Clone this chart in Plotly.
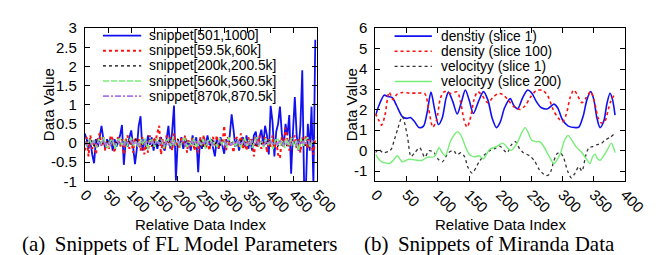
import plotly.graph_objects as go

# ---------------- Panel (a): snippets of FL model parameters ----------------
fl_index_a = list(range(0, 500, 4))      # relative data index for the two main snippets
fl_index_b = list(range(0, 500, 5))      # relative data index for the three small snippets

snippet_501_1000 = [
    0.25, 0.10, -0.15, 0.05, -0.30, -0.53, 0.10, -0.10, 0.15, 0.45,
    0.10, -0.15, 0.10, -0.05, 0.15, -0.20, 0.10, -0.10, 0.05, 0.20,
    0.47, -0.57, 0.05, -0.10, 0.15, 0.33, -0.10, -0.55, -0.15, 0.45,
    0.70, -0.20, 0.10, -0.15, 0.20, -0.05, 0.15, -0.20, 0.10, -0.15,
    0.05, 0.15, -0.10, -0.20, 0.10, 0.45, -0.15, 0.30, 0.98, -0.98,
    0.05, -0.10, 0.15, -0.15, 0.10, -0.10, 0.05, -0.20, 0.20, -0.05,
    0.15, -0.76, 0.10, -0.15, 0.15, -0.10, 0.20, -0.05, 0.10, -0.10,
    -0.35, 0.10, -0.15, 0.15, -0.10, -0.28, 0.10, -0.05, 0.20, 0.75,
    0.35, -0.10, 0.10, -0.20, 0.05, 0.15, -0.10, 0.20, -0.15, 0.10,
    -0.20, 0.20, 0.30, -0.10, 0.15, 0.35, -0.05, 0.45, 0.20, -0.30,
    0.97, 0.55, -0.35, 0.30, 0.50, 0.95, 0.25, -0.10, 0.50, 0.20,
    0.73, -0.80, 0.30, 1.20, 0.20, -0.20, 0.45, 1.90, -1.10, -1.10,
    0.50, -0.20, 0.95, -1.10, 2.70,
]
snippet_59k = [
    -0.20, 0.15, -0.35, 0.20, -0.15, 0.05, -0.30, 0.10, 0.25, -0.10,
    0.15, -0.20, 0.05, -0.15, 0.20, 0.10, -0.25, 0.05, 0.15, -0.10,
    0.10, -0.30, 0.05, 0.20, -0.15, 0.10, -0.25, 0.15, -0.05, 0.10,
    -0.20, 0.15, -0.30, 0.05, -0.25, 0.20, -0.10, 0.15, 0.05, 0.30,
    0.45, -0.30, 0.10, -0.15, 0.20, -0.05, 0.15, -0.20, 0.25, -0.10,
    0.10, -0.15, 0.15, -0.05, 0.20, -0.25, 0.10, -0.10, 0.15, -0.20,
    0.05, -0.25, 0.15, -0.10, 0.20, -0.15, 0.05, -0.20, 0.10, 0.15,
    -0.10, 0.20, -0.15, 0.10, -0.05, 0.45, -0.20, 0.15, -0.10, 0.05,
    -0.25, 0.10, 0.15, -0.10, 0.25, -0.15, 0.05, -0.20, 0.15, -0.05,
    0.10, -0.35, 0.15, -0.10, 0.20, -0.15, 0.05, 0.15, -0.25, 0.10,
    -0.10, 0.20, -0.15, 0.05, -0.30, -0.40, 0.15, -0.10, 0.40, 0.10,
    -0.20, 0.15, -0.05, 0.20, -0.15, 0.10, -0.25, 0.15, -0.10, 0.20,
    -0.15, 0.10, -0.05, -0.30, 0.15,
]
snippet_200k = [
    -0.05, 0.08, -0.02, 0.06, -0.08, 0.03, 0.10, -0.06, 0.04, -0.09,
    0.07, -0.03, 0.05, -0.07, 0.09, -0.04, 0.02, 0.08, -0.10, 0.05,
    -0.06, 0.04, 0.10, -0.05, 0.03, -0.08, 0.06, -0.02, 0.09, -0.07,
    0.04, -0.10, 0.06, 0.02, -0.05, 0.08, -0.03, 0.07, -0.09, 0.05,
    0.10, -0.04, 0.03, -0.08, 0.06, -0.02, 0.09, -0.06, 0.04, -0.03,
    0.07, -0.09, 0.05, 0.02, -0.06, 0.08, -0.04, 0.06, -0.10, 0.03,
    0.05, -0.07, 0.09, -0.03, 0.04, -0.08, 0.06, 0.10, -0.05, 0.02,
    -0.06, 0.08, -0.04, 0.05, -0.09, 0.07, -0.02, 0.04, -0.07, 0.09,
    0.03, -0.05, 0.08, -0.10, 0.06, -0.03, 0.05, -0.08, 0.10, -0.04,
    0.02, -0.06, 0.07, -0.03, 0.09, -0.08, 0.04, -0.05, 0.06, -0.02,
]
snippet_560k = [
    0.05, -0.10, 0.12, -0.05, 0.08, -0.12, 0.10, -0.03, 0.15, -0.08,
    -0.12, 0.06, 0.10, -0.15, 0.04, 0.12, -0.06, 0.09, -0.10, 0.05,
    0.14, -0.08, 0.03, -0.12, 0.10, -0.05, 0.12, -0.18, 0.06, 0.08,
    -0.10, 0.12, -0.04, 0.09, -0.14, 0.05, 0.10, -0.08, 0.15, -0.06,
    0.04, -0.12, 0.08, 0.12, -0.10, 0.03, -0.06, 0.14, -0.12, 0.07,
    -0.05, 0.10, -0.15, 0.06, 0.12, -0.08, 0.04, -0.10, 0.13, -0.04,
    0.08, -0.12, 0.15, -0.06, 0.05, -0.10, 0.10, -0.14, 0.06, 0.11,
    -0.07, 0.09, -0.12, 0.04, 0.15, -0.09, 0.06, -0.11, 0.12, -0.05,
    0.10, -0.16, 0.07, 0.13, -0.08, 0.05, -0.13, 0.10, -0.06, 0.14,
    -0.10, 0.06, -0.20, 0.12, -0.07, 0.09, 0.15, -0.12, 0.05, 0.08,
]
snippet_870k = [
    0.04, -0.05, 0.06, -0.03, 0.05, -0.06, 0.03, -0.04, 0.07, -0.05,
    0.04, -0.06, 0.05, -0.03, 0.06, -0.04, 0.03, -0.07, 0.05, -0.02,
    0.06, -0.05, 0.04, -0.06, 0.03, 0.05, -0.04, 0.06, -0.03, 0.04,
    -0.06, 0.05, -0.03, 0.07, -0.05, 0.03, -0.04, 0.06, -0.06, 0.04,
    0.05, -0.03, 0.06, -0.05, 0.02, -0.06, 0.05, -0.04, 0.07, -0.03,
    0.04, -0.05, 0.06, -0.04, 0.03, -0.06, 0.05, -0.02, 0.06, -0.05,
    0.03, -0.04, 0.07, -0.06, 0.04, -0.03, 0.05, -0.05, 0.06, -0.04,
    0.02, -0.06, 0.05, -0.03, 0.06, -0.04, 0.04, -0.07, 0.05, -0.03,
    0.06, -0.05, 0.03, -0.04, 0.07, -0.06, 0.04, -0.03, 0.05, -0.05,
    0.03, -0.06, 0.06, -0.04, 0.04, -0.05, 0.07, -0.03, 0.05, -0.04,
]
names_a = ["snippet[501,1000]", "snippet[59.5k,60k]", "snippet[200k,200.5k]",
           "snippet[560k,560.5k]", "snippet[870k,870.5k]"]

# ---------------- Panel (b): snippets of Miranda data ----------------
dens1_x = [0, 6, 14, 20, 27, 34, 43, 50, 56, 62, 70, 77, 83, 89, 95, 101, 107, 113, 117, 124,
           131, 138, 144, 150, 157, 165, 173, 180, 187, 194, 200, 207, 216, 222, 228, 236, 244,
           251, 258, 266, 276, 286, 292, 300, 309, 321, 326, 333, 339, 345, 350, 355, 360, 366,
           371, 376, 380, 384]
dens1_y = [1.70, 2.25, 2.72, 2.65, 2.60, 2.20, 1.67, 1.58, 1.62, 1.45, 1.13, 1.20, 1.90, 2.87,
           2.00, 1.28, 1.60, 2.55, 2.87, 2.40, 1.80, 2.40, 2.97, 2.50, 1.82, 2.40, 2.89, 2.50,
           1.60, 1.13, 1.40, 2.10, 2.55, 2.20, 2.05, 2.60, 2.97, 2.80, 2.40, 2.10, 2.05, 2.28,
           2.10, 1.50, 1.20, 1.13, 1.15, 1.70, 2.50, 2.90, 2.50, 1.60, 1.13, 1.45, 2.30, 2.81,
           2.50, 1.74]
dens100_x = [0, 5, 10, 15, 22, 28, 34, 43, 55, 68, 79, 85, 92, 98, 104, 110, 120, 131, 137,
             142, 147, 153, 158, 164, 171, 180, 188, 197, 204, 212, 222, 232, 240, 248, 258,
             268, 276, 285, 293, 300, 306, 312, 318, 324, 331, 338, 345, 351, 357, 362, 368,
             373, 377, 384]
dens100_y = [1.82, 1.51, 1.25, 1.70, 2.86, 2.50, 2.75, 2.85, 2.82, 2.82, 2.80, 2.10, 1.15,
             1.50, 2.55, 2.89, 2.80, 2.88, 2.30, 1.50, 1.15, 1.70, 2.50, 2.89, 2.70, 2.35,
             2.60, 2.80, 2.75, 2.50, 2.15, 2.02, 2.20, 2.60, 2.95, 2.95, 2.70, 2.00, 1.60,
             1.42, 1.80, 2.60, 2.97, 2.70, 2.35, 2.60, 2.90, 2.40, 1.60, 1.36, 1.45, 2.00,
             2.40, 2.80]
vel1_x = [0, 5, 12, 20, 25, 30, 36, 43, 51, 57, 63, 71, 79, 86, 94, 100, 107, 117, 125, 131,
          137, 143, 148, 155, 166, 175, 183, 191, 199, 211, 217, 224, 231, 237, 247, 255, 262,
          273, 279, 286, 291, 296, 301, 308, 314, 320, 326, 331, 337, 342, 348, 355, 362, 368,
          376, 383]
vel1_y = [-0.10, 0.06, -0.10, -0.05, 0.06, 0.50, 1.10, 1.67, 0.75, -0.29, -0.10, 0.14, -0.32,
          0.00, -0.10, -0.40, -0.55, -0.10, 0.00, -0.20, -0.10, -0.30, -0.80, -1.10, -0.55,
          -0.20, 0.00, 0.10, 0.22, -0.10, 0.25, 0.44, 0.10, -0.10, -0.25, -0.50, -0.90,
          -1.22, -1.15, -0.50, -0.15, -0.10, -0.30, -1.00, -1.33, -1.10, -0.78, -1.00, -0.25,
          0.14, 0.20, 0.29, 0.35, 0.52, 0.65, 0.83]
vel200_x = [0, 5, 10, 16, 22, 28, 35, 43, 53, 64, 74, 84, 94, 102, 107, 112, 120, 127, 132,
            137, 142, 147, 153, 160, 166, 173, 183, 194, 204, 210, 217, 227, 234, 240, 246,
            250, 257, 263, 268, 277, 286, 296, 303, 309, 315, 321, 331, 338, 344, 348, 352,
            356, 360, 370, 378, 381, 384]
vel200_y = [-0.17, -0.40, -0.55, -0.60, -0.63, -0.50, -0.25, -0.55, -0.42, -0.46, -0.48,
            -0.32, -0.30, 0.14, -0.10, -0.25, 0.44, 0.82, 0.92, 0.75, 0.37, 0.00, -0.25,
            -0.30, -0.25, -0.40, 0.06, 0.20, 0.37, 0.20, 0.00, 0.37, 0.85, 1.13, 0.80, 0.52,
            0.44, 0.44, 0.29, -0.20, -0.63, -0.17, 0.50, 0.75, 0.50, 0.21, -0.10, -0.40,
            -0.63, -0.30, -0.17, -0.40, -0.47, -0.05, 0.37, 0.20, -0.10]
names_b = ["denstiy (slice 1)", "density (slice 100)", "velocityy (slice 1)",
           "velocityy (slice 200)"]

# axis ticks
xticks_a = list(range(0, 501, 50))
yticks_a = [-1, -0.5, 0, 0.5, 1, 1.5, 2, 2.5, 3]
yticks_a_text = ["-1", "-0.5", "0", "0.5", "1", "1.5", "2", "2.5", "3"]
xticks_b = list(range(0, 401, 50))
yticks_b = [-1, 0, 1, 2, 3, 4, 5, 6]
yticks_b_text = ["-1", "0", "1", "2", "3", "4", "5", "6"]

# ---------------- styles ----------------
W, H = 661, 255
SANS = "Liberation Sans, Arial, Helvetica, sans-serif"
SERIF = "Liberation Serif, Times New Roman, serif"
BLUE, RED, BLACK, GREEN, PURPLE = "#1010f0", "#ff1010", "#000000", "#77ee77", "#aa77ee"

styles_a = [
    dict(color=BLUE, width=1.8, dash="solid"),
    dict(color=RED, width=2.0, dash="dot"),
    dict(color=BLACK, width=1.2, dash="dot"),
    dict(color=GREEN, width=1.6, dash="6px,2px"),
    dict(color=PURPLE, width=1.6, dash="6px,2px,2px,2px"),
]
styles_b = [
    dict(color=BLUE, width=1.6, dash="solid"),
    dict(color=RED, width=1.6, dash="dot"),
    dict(color="#333333", width=1.3, dash="dot"),
    dict(color=GREEN, width=1.4, dash="solid"),
]

fig = go.Figure()
series_a = [(fl_index_a, snippet_501_1000), (fl_index_a, snippet_59k),
            (fl_index_b, snippet_200k), (fl_index_b, snippet_560k), (fl_index_b, snippet_870k)]
for (xs, ys), nm, st in zip(series_a, names_a, styles_a):
    fig.add_trace(go.Scatter(x=xs, y=ys, name=nm, mode="lines", line=st,
                             xaxis="x", yaxis="y", showlegend=False))

series_b = [(dens1_x, dens1_y), (dens100_x, dens100_y), (vel1_x, vel1_y), (vel200_x, vel200_y)]
for (xs, ys), nm, st in zip(series_b, names_b, styles_b):
    fig.add_trace(go.Scatter(x=xs, y=ys, name=nm, mode="lines",
                             line=dict(shape="spline", smoothing=0.8, **st),
                             xaxis="x2", yaxis="y2", showlegend=False))


def px(x):
    return x / W


def py(y):
    return 1 - y / H


ax_common = dict(showline=True, linecolor="black", linewidth=1, mirror="ticks",
                 ticks="inside", ticklen=5, tickwidth=1, tickcolor="black",
                 showgrid=False, zeroline=False,
                 tickfont=dict(family=SANS, size=15, color="black"))

fig.update_layout(
    width=W, height=H, autosize=False,
    margin=dict(l=0, r=0, t=0, b=0, pad=0),
    paper_bgcolor="white", plot_bgcolor="white",
    showlegend=False,
    xaxis=dict(domain=[px(73), px(316)], range=[0, 500], tickvals=xticks_a,
               tickangle=45, anchor="y", ticklabelstandoff=-2, **ax_common),
    yaxis=dict(domain=[py(176), py(12)], range=[-1, 3], tickvals=yticks_a,
               ticktext=yticks_a_text, anchor="x", ticklabelstandoff=4, **ax_common),
    xaxis2=dict(domain=[px(377), px(638)], range=[0, 400], tickvals=xticks_b,
                tickangle=45, anchor="y2", ticklabelstandoff=-2, **ax_common),
    yaxis2=dict(domain=[py(176), py(12)], range=[-1.5, 6], tickvals=yticks_b,
                ticktext=yticks_b_text, anchor="x2", ticklabelstandoff=4, **ax_common),
)

annotations = []
shapes = []
# axis titles
for cx in (35, 352):
    annotations.append(dict(text="Data Value", x=px(cx), y=py(94), xref="paper", yref="paper",
                            textangle=-90, showarrow=False, xanchor="center", yanchor="middle",
                            font=dict(family=SANS, size=15, color="black")))
for cx in (194.5, 507.5):
    annotations.append(dict(text="Relative Data Index", x=px(cx), y=py(222), xref="paper",
                            yref="paper", showarrow=False, xanchor="center", yanchor="middle",
                            borderpad=0, font=dict(family=SANS, size=15, color="black")))
# captions
annotations.append(dict(text="(a)\u2009 Snippets of FL Model Parameters", x=px(6), y=py(243.5),
                        xref="paper", yref="paper", showarrow=False, xanchor="left",
                        yanchor="middle", borderpad=0,
                        font=dict(family=SERIF, size=21, color="black")))
annotations.append(dict(text="(b)\u2009 Snippets of Miranda Data", x=px(364), y=py(243.5),
                        xref="paper", yref="paper", showarrow=False, xanchor="left",
                        yanchor="middle", borderpad=0,
                        font=dict(family=SERIF, size=21, color="black")))

ROW = 16.2  # legend row pitch in px


# legends (gnuplot style: line sample then label)
def add_legend(names, styles, x0, x1, xt, y0):
    for i, (nm, st) in enumerate(zip(names, styles)):
        yy = y0 + ROW * i
        shapes.append(dict(type="line", xref="paper", yref="paper", x0=px(x0), x1=px(x1),
                           y0=py(yy), y1=py(yy),
                           line=dict(color=st["color"], width=st["width"], dash=st["dash"])))
        annotations.append(dict(text=nm, x=px(xt), y=py(yy), xref="paper", yref="paper",
                                showarrow=False, xanchor="left", yanchor="middle",
                                borderpad=0,
                                font=dict(family=SANS, size=13.8, color="black")))


add_legend(names_a, styles_a, 92, 132, 139, 20)
add_legend(names_b, styles_b, 397, 436, 444, 20.5)

fig.update_layout(annotations=annotations, shapes=shapes)
fig.write_html("out.html")
